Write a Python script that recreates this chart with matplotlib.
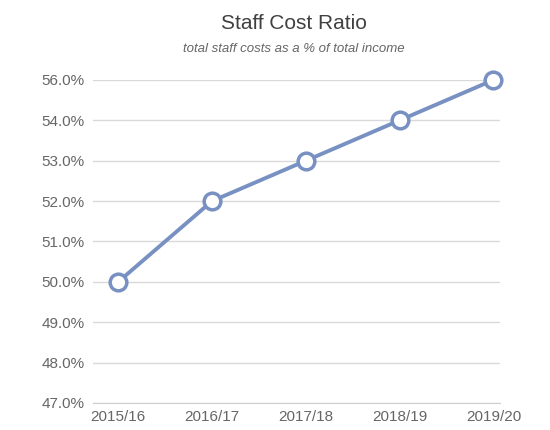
import numpy as np
import matplotlib
matplotlib.use('Agg')
import matplotlib.pyplot as plt

years = ['2015/16', '2016/17', '2017/18', '2018/19', '2019/20']
ratio = [50.0, 52.0, 53.0, 54.0, 56.0]
y_ticks = [47.0, 48.0, 49.0, 50.0, 51.0, 52.0, 53.0, 54.0, 56.0]

plt.rcParams['font.family'] = ['Liberation Sans', 'DejaVu Sans']

# the source axis puts 56.0% one step above 54.0%, so squeeze that gap
def fwd(y):
  y = np.asarray(y, dtype=float)
  return np.where(y <= 54, y, 54 + (y - 54) / 2)

def inv(y):
  y = np.asarray(y, dtype=float)
  return np.where(y <= 54, y, 54 + (y - 54) * 2)

fig = plt.figure(figsize=(5.5, 4.3), dpi=100)
ax = fig.add_axes([0.169, 0.063, 0.74, 0.751])
ax.set_yscale('function', functions=(fwd, inv))

x = np.arange(len(years))
ax.plot(x, ratio, color='#7891c2', lw=2.8, marker='o', ms=12,
        mfc='white', mec='#7891c2', mew=2.5, zorder=3, clip_on=False)

ax.set_ylim(47, 56)
ax.set_xlim(-0.27, 4.07)
ax.set_yticks(y_ticks)
ax.set_yticklabels([f'{v:.1f}%' for v in y_ticks])
ax.set_xticks(x)
ax.set_xticklabels(years)
ax.grid(axis='y', color='#d9d9d9', lw=1)
ax.set_axisbelow(True)
for s in ['top', 'right', 'left']:
  ax.spines[s].set_visible(False)
ax.spines['bottom'].set_color('#d0d0d0')
ax.tick_params(axis='both', length=0, labelsize=11, colors='#666666')
ax.tick_params(axis='y', pad=6)
ax.tick_params(axis='x', pad=5)

fig.text(0.535, 0.945, 'Staff Cost Ratio', ha='center', va='center',
         fontsize=15, color='#404040')
fig.text(0.535, 0.887, 'total staff costs as a % of total income', ha='center',
         va='center', fontsize=9.5, style='italic', color='#666666')

fig.savefig('out.png', dpi=100)
